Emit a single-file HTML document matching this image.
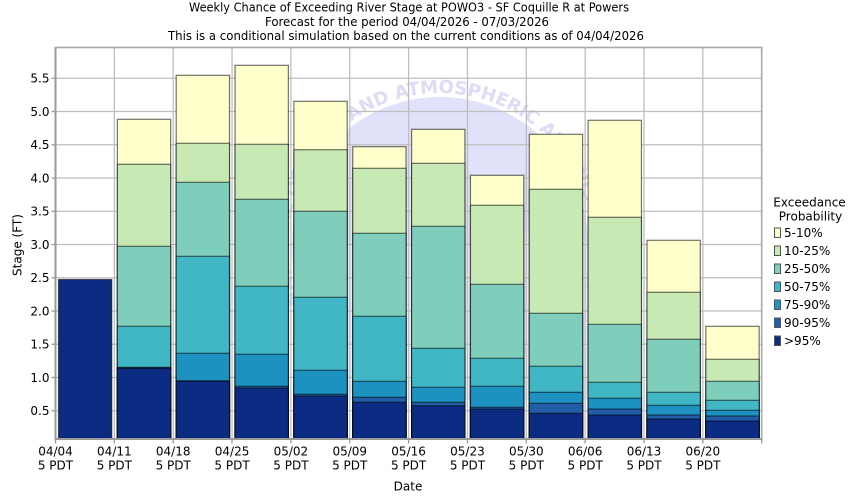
<!DOCTYPE html>
<html>
<head>
<meta charset="utf-8">
<style>
  html, body { margin: 0; padding: 0; background: #ffffff; }
  svg { display: block; }
  text { font-family: "DejaVu Sans", "Liberation Sans", sans-serif; fill: #000; }
</style>
</head>
<body>
<svg width="850" height="500" viewBox="0 0 850 500" xmlns="http://www.w3.org/2000/svg">
  <rect x="0" y="0" width="850" height="500" fill="#ffffff"/>

  <!-- Titles -->
  <text x="409" y="11.5" font-size="12" text-anchor="middle" textLength="440" lengthAdjust="spacingAndGlyphs">Weekly Chance of Exceeding River Stage at POWO3 - SF Coquille R at Powers</text>
  <text x="407" y="25.8" font-size="12" text-anchor="middle" textLength="284" lengthAdjust="spacingAndGlyphs">Forecast for the period 04/04/2026 - 07/03/2026</text>
  <text x="406" y="40" font-size="12" text-anchor="middle" textLength="476" lengthAdjust="spacingAndGlyphs">This is a conditional simulation based on the current conditions as of 04/04/2026</text>

  <!-- Watermark -->
  <defs>
    <clipPath id="plotclip"><rect x="55.5" y="47.5" width="706.2" height="391.5"/></clipPath>
    <path id="ring" d="M 440,397 A 152,152 0 1,1 440,93 A 152,152 0 1,1 440,397"/>
  </defs>
  <g clip-path="url(#plotclip)">
    <circle cx="440" cy="245" r="148" fill="#E1E1F9"/>
    <path d="M 300,260 Q 380,230 450,250 Q 520,220 590,240 L 590,400 L 300,400 Z" fill="#EAEAFB"/>
    <text font-size="18" font-weight="bold" style="fill:#DCDCF6"><textPath href="#ring" startOffset="178">NATIONAL OCEANIC AND ATMOSPHERIC ADMINISTRATION</textPath></text>
  </g>

  <!-- Gridlines -->
  <g stroke="#BEBEBE" stroke-width="1.3" fill="none">
    <line x1="55.5" y1="410.75" x2="761.7" y2="410.75"/>
    <line x1="55.5" y1="377.5" x2="761.7" y2="377.5"/>
    <line x1="55.5" y1="344.25" x2="761.7" y2="344.25"/>
    <line x1="55.5" y1="311" x2="761.7" y2="311"/>
    <line x1="55.5" y1="277.75" x2="761.7" y2="277.75"/>
    <line x1="55.5" y1="244.5" x2="761.7" y2="244.5"/>
    <line x1="55.5" y1="211.25" x2="761.7" y2="211.25"/>
    <line x1="55.5" y1="178" x2="761.7" y2="178"/>
    <line x1="55.5" y1="144.75" x2="761.7" y2="144.75"/>
    <line x1="55.5" y1="111.5" x2="761.7" y2="111.5"/>
    <line x1="55.5" y1="78.25" x2="761.7" y2="78.25"/>
    <line x1="114.35" y1="47.5" x2="114.35" y2="439"/>
    <line x1="173.2" y1="47.5" x2="173.2" y2="439"/>
    <line x1="232.05" y1="47.5" x2="232.05" y2="439"/>
    <line x1="290.9" y1="47.5" x2="290.9" y2="439"/>
    <line x1="349.75" y1="47.5" x2="349.75" y2="439"/>
    <line x1="408.6" y1="47.5" x2="408.6" y2="439"/>
    <line x1="467.45" y1="47.5" x2="467.45" y2="439"/>
    <line x1="526.3" y1="47.5" x2="526.3" y2="439"/>
    <line x1="585.15" y1="47.5" x2="585.15" y2="439"/>
    <line x1="644" y1="47.5" x2="644" y2="439"/>
    <line x1="702.85" y1="47.5" x2="702.85" y2="439"/>
  </g>

  <!-- Bars -->
  <g stroke="#000" stroke-opacity="0.55" stroke-width="1.2">
    <!-- B1 04/04 -->
    <rect x="58.5" y="279.5" width="53.3" height="159.5" fill="#0C2C84"/>
    <!-- B2 04/11 -->
    <rect x="117.35" y="119.3" width="53.3" height="319.7" fill="#FFFFCC"/>
    <rect x="117.35" y="164.3" width="53.3" height="274.7" fill="#C7E9B4"/>
    <rect x="117.35" y="246.3" width="53.3" height="192.7" fill="#7FCDBB"/>
    <rect x="117.35" y="326.3" width="53.3" height="112.7" fill="#41B6C4"/>
    <rect x="117.35" y="367.3" width="53.3" height="71.7" fill="#1D91C0"/>
    <rect x="117.35" y="367.8" width="53.3" height="71.2" fill="#225EA8"/>
    <rect x="117.35" y="368.3" width="53.3" height="70.7" fill="#0C2C84"/>
    <!-- B3 04/18 -->
    <rect x="176.2" y="75.3" width="53.3" height="363.7" fill="#FFFFCC"/>
    <rect x="176.2" y="143.3" width="53.3" height="295.7" fill="#C7E9B4"/>
    <rect x="176.2" y="182.3" width="53.3" height="256.7" fill="#7FCDBB"/>
    <rect x="176.2" y="256.3" width="53.3" height="182.7" fill="#41B6C4"/>
    <rect x="176.2" y="353.3" width="53.3" height="85.7" fill="#1D91C0"/>
    <rect x="176.2" y="380.8" width="53.3" height="58.2" fill="#225EA8"/>
    <rect x="176.2" y="381.3" width="53.3" height="57.7" fill="#0C2C84"/>
    <!-- B4 04/25 -->
    <rect x="235.05" y="65.3" width="53.3" height="373.7" fill="#FFFFCC"/>
    <rect x="235.05" y="144.3" width="53.3" height="294.7" fill="#C7E9B4"/>
    <rect x="235.05" y="199.3" width="53.3" height="239.7" fill="#7FCDBB"/>
    <rect x="235.05" y="286.3" width="53.3" height="152.7" fill="#41B6C4"/>
    <rect x="235.05" y="354.3" width="53.3" height="84.7" fill="#1D91C0"/>
    <rect x="235.05" y="386.3" width="53.3" height="52.7" fill="#225EA8"/>
    <rect x="235.05" y="388" width="53.3" height="51" fill="#0C2C84"/>
    <!-- B5 05/02 -->
    <rect x="293.9" y="101.3" width="53.3" height="337.7" fill="#FFFFCC"/>
    <rect x="293.9" y="149.7" width="53.3" height="289.3" fill="#C7E9B4"/>
    <rect x="293.9" y="211.3" width="53.3" height="227.7" fill="#7FCDBB"/>
    <rect x="293.9" y="297.3" width="53.3" height="141.7" fill="#41B6C4"/>
    <rect x="293.9" y="370.3" width="53.3" height="68.7" fill="#1D91C0"/>
    <rect x="293.9" y="394.3" width="53.3" height="44.7" fill="#225EA8"/>
    <rect x="293.9" y="396" width="53.3" height="43" fill="#0C2C84"/>
    <!-- B6 05/09 -->
    <rect x="352.75" y="146.7" width="53.3" height="292.3" fill="#FFFFCC"/>
    <rect x="352.75" y="168.3" width="53.3" height="270.7" fill="#C7E9B4"/>
    <rect x="352.75" y="233.3" width="53.3" height="205.7" fill="#7FCDBB"/>
    <rect x="352.75" y="316.3" width="53.3" height="122.7" fill="#41B6C4"/>
    <rect x="352.75" y="381.3" width="53.3" height="57.7" fill="#1D91C0"/>
    <rect x="352.75" y="397.3" width="53.3" height="41.7" fill="#225EA8"/>
    <rect x="352.75" y="402.3" width="53.3" height="36.7" fill="#0C2C84"/>
    <!-- B7 05/16 -->
    <rect x="411.6" y="129.3" width="53.3" height="309.7" fill="#FFFFCC"/>
    <rect x="411.6" y="163.3" width="53.3" height="275.7" fill="#C7E9B4"/>
    <rect x="411.6" y="226.3" width="53.3" height="212.7" fill="#7FCDBB"/>
    <rect x="411.6" y="348.3" width="53.3" height="90.7" fill="#41B6C4"/>
    <rect x="411.6" y="387.3" width="53.3" height="51.7" fill="#1D91C0"/>
    <rect x="411.6" y="402.3" width="53.3" height="36.7" fill="#225EA8"/>
    <rect x="411.6" y="405.7" width="53.3" height="33.3" fill="#0C2C84"/>
    <!-- B8 05/23 -->
    <rect x="470.45" y="175.3" width="53.3" height="263.7" fill="#FFFFCC"/>
    <rect x="470.45" y="205.3" width="53.3" height="233.7" fill="#C7E9B4"/>
    <rect x="470.45" y="284.3" width="53.3" height="154.7" fill="#7FCDBB"/>
    <rect x="470.45" y="358.3" width="53.3" height="80.7" fill="#41B6C4"/>
    <rect x="470.45" y="386.3" width="53.3" height="52.7" fill="#1D91C0"/>
    <rect x="470.45" y="407.3" width="53.3" height="31.7" fill="#225EA8"/>
    <rect x="470.45" y="409" width="53.3" height="30" fill="#0C2C84"/>
    <!-- B9 05/30 -->
    <rect x="529.3" y="134.3" width="53.3" height="304.7" fill="#FFFFCC"/>
    <rect x="529.3" y="189.3" width="53.3" height="249.7" fill="#C7E9B4"/>
    <rect x="529.3" y="313.3" width="53.3" height="125.7" fill="#7FCDBB"/>
    <rect x="529.3" y="366.3" width="53.3" height="72.7" fill="#41B6C4"/>
    <rect x="529.3" y="392.3" width="53.3" height="46.7" fill="#1D91C0"/>
    <rect x="529.3" y="403.3" width="53.3" height="35.7" fill="#225EA8"/>
    <rect x="529.3" y="413.3" width="53.3" height="25.7" fill="#0C2C84"/>
    <!-- B10 06/06 -->
    <rect x="588.15" y="120.3" width="53.3" height="318.7" fill="#FFFFCC"/>
    <rect x="588.15" y="217.3" width="53.3" height="221.7" fill="#C7E9B4"/>
    <rect x="588.15" y="324.3" width="53.3" height="114.7" fill="#7FCDBB"/>
    <rect x="588.15" y="382.3" width="53.3" height="56.7" fill="#41B6C4"/>
    <rect x="588.15" y="398.3" width="53.3" height="40.7" fill="#1D91C0"/>
    <rect x="588.15" y="409" width="53.3" height="30" fill="#225EA8"/>
    <rect x="588.15" y="415" width="53.3" height="24" fill="#0C2C84"/>
    <!-- B11 06/13 -->
    <rect x="647" y="240.3" width="53.3" height="198.7" fill="#FFFFCC"/>
    <rect x="647" y="292.3" width="53.3" height="146.7" fill="#C7E9B4"/>
    <rect x="647" y="339.3" width="53.3" height="99.7" fill="#7FCDBB"/>
    <rect x="647" y="392.3" width="53.3" height="46.7" fill="#41B6C4"/>
    <rect x="647" y="405.3" width="53.3" height="33.7" fill="#1D91C0"/>
    <rect x="647" y="415" width="53.3" height="24" fill="#225EA8"/>
    <rect x="647" y="419" width="53.3" height="20" fill="#0C2C84"/>
    <!-- B12 06/20 -->
    <rect x="705.85" y="326.3" width="53.3" height="112.7" fill="#FFFFCC"/>
    <rect x="705.85" y="359.3" width="53.3" height="79.7" fill="#C7E9B4"/>
    <rect x="705.85" y="381.3" width="53.3" height="57.7" fill="#7FCDBB"/>
    <rect x="705.85" y="400.3" width="53.3" height="38.7" fill="#41B6C4"/>
    <rect x="705.85" y="410.3" width="53.3" height="28.7" fill="#1D91C0"/>
    <rect x="705.85" y="416" width="53.3" height="23" fill="#225EA8"/>
    <rect x="705.85" y="421" width="53.3" height="18" fill="#0C2C84"/>
  </g>

  <!-- Plot border / axes -->
  <rect x="55.5" y="47.5" width="706.2" height="391.5" fill="none" stroke="#A8A8A8" stroke-width="1.6"/>
  <line x1="55.5" y1="47.5" x2="55.5" y2="439.5" stroke="#9A9A9A" stroke-width="2"/>
  <line x1="55" y1="439" x2="762.5" y2="439" stroke="#9A9A9A" stroke-width="2"/>

  <!-- Y ticks -->
  <g stroke="#9A9A9A" stroke-width="1.3">
    <line x1="51.5" y1="410.75" x2="55.5" y2="410.75"/>
    <line x1="51.5" y1="377.5" x2="55.5" y2="377.5"/>
    <line x1="51.5" y1="344.25" x2="55.5" y2="344.25"/>
    <line x1="51.5" y1="311" x2="55.5" y2="311"/>
    <line x1="51.5" y1="277.75" x2="55.5" y2="277.75"/>
    <line x1="51.5" y1="244.5" x2="55.5" y2="244.5"/>
    <line x1="51.5" y1="211.25" x2="55.5" y2="211.25"/>
    <line x1="51.5" y1="178" x2="55.5" y2="178"/>
    <line x1="51.5" y1="144.75" x2="55.5" y2="144.75"/>
    <line x1="51.5" y1="111.5" x2="55.5" y2="111.5"/>
    <line x1="51.5" y1="78.25" x2="55.5" y2="78.25"/>
  </g>
  <!-- X ticks -->
  <g stroke="#9A9A9A" stroke-width="1.3">
    <line x1="55.5" y1="439" x2="55.5" y2="443.5"/>
    <line x1="114.35" y1="439" x2="114.35" y2="443.5"/>
    <line x1="173.2" y1="439" x2="173.2" y2="443.5"/>
    <line x1="232.05" y1="439" x2="232.05" y2="443.5"/>
    <line x1="290.9" y1="439" x2="290.9" y2="443.5"/>
    <line x1="349.75" y1="439" x2="349.75" y2="443.5"/>
    <line x1="408.6" y1="439" x2="408.6" y2="443.5"/>
    <line x1="467.45" y1="439" x2="467.45" y2="443.5"/>
    <line x1="526.3" y1="439" x2="526.3" y2="443.5"/>
    <line x1="585.15" y1="439" x2="585.15" y2="443.5"/>
    <line x1="644" y1="439" x2="644" y2="443.5"/>
    <line x1="702.85" y1="439" x2="702.85" y2="443.5"/>
    <line x1="761.7" y1="439" x2="761.7" y2="443.5"/>
  </g>

  <!-- Y tick labels -->
  <g font-size="12" text-anchor="end">
    <text x="49.5" y="415.1">0.5</text>
    <text x="49.5" y="381.9">1.0</text>
    <text x="49.5" y="348.6">1.5</text>
    <text x="49.5" y="315.4">2.0</text>
    <text x="49.5" y="282.1">2.5</text>
    <text x="49.5" y="248.9">3.0</text>
    <text x="49.5" y="215.6">3.5</text>
    <text x="49.5" y="182.4">4.0</text>
    <text x="49.5" y="149.1">4.5</text>
    <text x="49.5" y="115.9">5.0</text>
    <text x="49.5" y="82.6">5.5</text>
  </g>

  <!-- Y axis title -->
  <text x="0" y="0" font-size="12" text-anchor="middle" transform="translate(21.5,245) rotate(-90)">Stage (FT)</text>

  <!-- X tick labels -->
  <g font-size="12" text-anchor="middle">
    <text x="55.5" y="455.3">04/04</text><text x="55.5" y="469.3">5 PDT</text>
    <text x="114.35" y="455.3">04/11</text><text x="114.35" y="469.3">5 PDT</text>
    <text x="173.2" y="455.3">04/18</text><text x="173.2" y="469.3">5 PDT</text>
    <text x="232.05" y="455.3">04/25</text><text x="232.05" y="469.3">5 PDT</text>
    <text x="290.9" y="455.3">05/02</text><text x="290.9" y="469.3">5 PDT</text>
    <text x="349.75" y="455.3">05/09</text><text x="349.75" y="469.3">5 PDT</text>
    <text x="408.6" y="455.3">05/16</text><text x="408.6" y="469.3">5 PDT</text>
    <text x="467.45" y="455.3">05/23</text><text x="467.45" y="469.3">5 PDT</text>
    <text x="526.3" y="455.3">05/30</text><text x="526.3" y="469.3">5 PDT</text>
    <text x="585.15" y="455.3">06/06</text><text x="585.15" y="469.3">5 PDT</text>
    <text x="644" y="455.3">06/13</text><text x="644" y="469.3">5 PDT</text>
    <text x="702.85" y="455.3">06/20</text><text x="702.85" y="469.3">5 PDT</text>
  </g>

  <!-- X axis title -->
  <text x="408" y="490.5" font-size="12" text-anchor="middle">Date</text>

  <!-- Legend -->
  <text x="809.5" y="206.5" font-size="12" text-anchor="middle">Exceedance</text>
  <text x="810.5" y="220.5" font-size="12" text-anchor="middle">Probability</text>
  <g stroke="#555" stroke-width="1">
    <rect x="774.5" y="228" width="6" height="9.5" fill="#FFFFCC"/>
    <rect x="774.5" y="246" width="6" height="9.5" fill="#C7E9B4"/>
    <rect x="774.5" y="264" width="6" height="9.5" fill="#7FCDBB"/>
    <rect x="774.5" y="282" width="6" height="9.5" fill="#41B6C4"/>
    <rect x="774.5" y="300" width="6" height="9.5" fill="#1D91C0"/>
    <rect x="774.5" y="318" width="6" height="9.5" fill="#225EA8"/>
    <rect x="774.5" y="336" width="6" height="9.5" fill="#0C2C84"/>
  </g>
  <g font-size="12">
    <text x="784" y="236.8">5-10%</text>
    <text x="784" y="254.8">10-25%</text>
    <text x="784" y="272.8">25-50%</text>
    <text x="784" y="290.8">50-75%</text>
    <text x="784" y="308.8">75-90%</text>
    <text x="784" y="326.8">90-95%</text>
    <text x="784" y="344.8">&gt;95%</text>
  </g>
</svg>
</body>
</html>
